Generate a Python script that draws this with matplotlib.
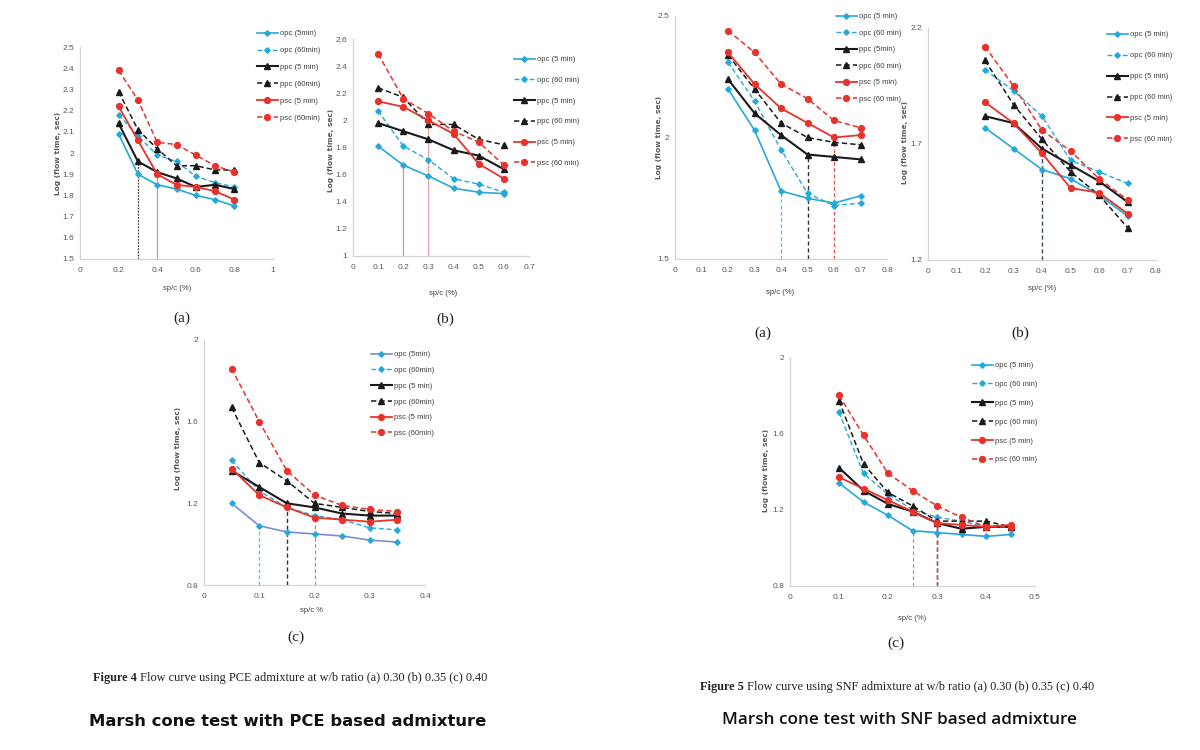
import matplotlib
matplotlib.use("Agg")
import matplotlib.pyplot as plt
from matplotlib.ticker import FixedLocator, FuncFormatter

W, H = 1200, 750

# ---------------- data ----------------
# Figure 4 (a): PCE, w/b 0.30
pce_a_x = [0.2, 0.3, 0.4, 0.5, 0.6, 0.7, 0.8]
pce_a_opc5 = [2.09, 1.90, 1.85, 1.83, 1.80, 1.78, 1.75]
pce_a_opc60 = [2.18, 2.08, 1.99, 1.96, 1.89, 1.86, 1.84]
pce_a_ppc5 = [2.14, 1.96, 1.91, 1.88, 1.84, 1.85, 1.83]
pce_a_ppc60 = [2.29, 2.11, 2.02, 1.94, 1.94, 1.92, 1.92]
pce_a_psc5 = [2.22, 2.06, 1.90, 1.85, 1.84, 1.82, 1.78]
pce_a_psc60 = [2.39, 2.25, 2.05, 2.04, 1.99, 1.94, 1.91]
pce_a_labels = ["opc (5min)", "opc (60min)", "ppc (5 min)", "ppc (60min)", "psc (5 min)", "psc (60min)"]
pce_a_xticks = [0, 0.2, 0.4, 0.6, 0.8, 1]
pce_a_yticks = [1.5, 1.6, 1.7, 1.8, 1.9, 2.0, 2.1, 2.2, 2.3, 2.4, 2.5]
pce_a_drop_x = [0.3, 0.4]
pce_a_drop_y = [1.96, 1.91]

# Figure 4 (b): PCE, w/b 0.35
pce_b_x = [0.1, 0.2, 0.3, 0.4, 0.5, 0.6]
pce_b_opc5 = [1.81, 1.67, 1.59, 1.50, 1.47, 1.46]
pce_b_opc60 = [2.07, 1.81, 1.71, 1.57, 1.53, 1.47]
pce_b_ppc5 = [1.98, 1.92, 1.86, 1.78, 1.74, 1.64]
pce_b_ppc60 = [2.24, 2.17, 1.97, 1.97, 1.86, 1.82]
pce_b_psc5 = [2.14, 2.10, 2.00, 1.90, 1.68, 1.57]
pce_b_psc60 = [2.49, 2.16, 2.05, 1.92, 1.84, 1.67]
pce_b_labels = ["opc (5 min)", "opc (60 min)", "ppc (5 min)", "ppc (60 min)", "psc (5 min)", "psc (60 min)"]
pce_b_xticks = [0, 0.1, 0.2, 0.3, 0.4, 0.5, 0.6, 0.7]
pce_b_yticks = [1.0, 1.2, 1.4, 1.6, 1.8, 2.0, 2.2, 2.4, 2.6]
pce_b_drop_x = [0.2, 0.3]
pce_b_drop_y = [1.67, 2.00]

# Figure 4 (c): PCE, w/b 0.40
pce_c_x = [0.05, 0.1, 0.15, 0.2, 0.25, 0.3, 0.35]
pce_c_opc5 = [1.20, 1.09, 1.06, 1.05, 1.04, 1.02, 1.01]
pce_c_opc60 = [1.41, 1.26, 1.18, 1.14, 1.12, 1.08, 1.07]
pce_c_ppc5 = [1.36, 1.28, 1.20, 1.18, 1.15, 1.14, 1.14]
pce_c_ppc60 = [1.67, 1.40, 1.31, 1.20, 1.18, 1.16, 1.15]
pce_c_psc5 = [1.37, 1.24, 1.18, 1.13, 1.12, 1.11, 1.12]
pce_c_psc60 = [1.86, 1.60, 1.36, 1.24, 1.19, 1.17, 1.16]
pce_c_labels = ["opc (5min)", "opc (60min)", "ppc (5 min)", "ppc (60min)", "psc (5 min)", "psc (60min)"]
pce_c_xticks = [0, 0.1, 0.2, 0.3, 0.4]
pce_c_yticks = [0.8, 1.2, 1.6, 2.0]
pce_c_drop_x = [0.1, 0.15, 0.2]
pce_c_drop_y = [1.09, 1.19, 1.13]

# Figure 5 (a): SNF, w/b 0.30
snf_a_x = [0.2, 0.3, 0.4, 0.5, 0.6, 0.7]
snf_a_opc5 = [2.20, 2.03, 1.78, 1.75, 1.73, 1.76]
snf_a_opc60 = [2.31, 2.15, 1.95, 1.77, 1.72, 1.73]
snf_a_ppc5 = [2.24, 2.10, 2.01, 1.93, 1.92, 1.91]
snf_a_ppc60 = [2.34, 2.20, 2.06, 2.00, 1.98, 1.97]
snf_a_psc5 = [2.35, 2.22, 2.12, 2.06, 2.00, 2.01]
snf_a_psc60 = [2.44, 2.35, 2.22, 2.16, 2.07, 2.04]
snf_a_labels = ["opc (5 min)", "opc (60 min)", "ppc (5min)", "ppc (60 min)", "psc (5 min)", "psc (60 min)"]
snf_a_xticks = [0, 0.1, 0.2, 0.3, 0.4, 0.5, 0.6, 0.7, 0.8]
snf_a_yticks = [1.5, 2.0, 2.5]
snf_a_drop_x = [0.4, 0.5, 0.6]
snf_a_drop_y = [1.78, 1.93, 2.00]

# Figure 5 (b): SNF, w/b 0.35
snf_b_x = [0.2, 0.3, 0.4, 0.5, 0.6, 0.7]
snf_b_opc5 = [1.77, 1.68, 1.59, 1.55, 1.48, 1.39]
snf_b_opc60 = [2.02, 1.93, 1.82, 1.63, 1.58, 1.53]
snf_b_ppc5 = [1.82, 1.79, 1.68, 1.61, 1.54, 1.45]
snf_b_ppc60 = [2.06, 1.87, 1.72, 1.58, 1.48, 1.34]
snf_b_psc5 = [1.88, 1.79, 1.66, 1.51, 1.49, 1.40]
snf_b_psc60 = [2.12, 1.95, 1.76, 1.67, 1.55, 1.46]
snf_b_labels = ["opc (5 min)", "opc (60 min)", "ppc (5 min)", "ppc (60 min)", "psc (5 min)", "psc (60 min)"]
snf_b_xticks = [0, 0.1, 0.2, 0.3, 0.4, 0.5, 0.6, 0.7, 0.8]
snf_b_yticks = [1.2, 1.7, 2.2]
snf_b_drop_x = [0.4]
snf_b_drop_y = [1.68]

# Figure 5 (c): SNF, w/b 0.40
snf_c_x = [0.1, 0.15, 0.2, 0.25, 0.3, 0.35, 0.4, 0.45]
snf_c_opc5 = [1.34, 1.24, 1.17, 1.09, 1.08, 1.07, 1.06, 1.07]
snf_c_opc60 = [1.71, 1.39, 1.28, 1.20, 1.16, 1.14, 1.11, 1.11]
snf_c_ppc5 = [1.42, 1.30, 1.23, 1.19, 1.13, 1.10, 1.11, 1.11]
snf_c_ppc60 = [1.77, 1.44, 1.29, 1.22, 1.14, 1.14, 1.14, 1.11]
snf_c_psc5 = [1.37, 1.31, 1.25, 1.19, 1.13, 1.12, 1.11, 1.12]
snf_c_psc60 = [1.80, 1.59, 1.39, 1.30, 1.22, 1.16, 1.11, 1.11]
snf_c_labels = ["opc (5 min)", "opc (60 min)", "ppc (5 min)", "ppc (60 min)", "psc (5 min)", "psc (60 min)"]
snf_c_xticks = [0, 0.1, 0.2, 0.3, 0.4, 0.5]
snf_c_yticks = [0.8, 1.2, 1.6, 2.0]
snf_c_drop_x = [0.25, 0.3, 0.3]
snf_c_drop_y = [1.09, 1.13, 1.13]

# ---------------- styling ----------------
CYAN = "#25a9d9"
BLACK = "#1a1a1a"
RED = "#e8322b"
NARROW = ["Liberation Sans Narrow", "Liberation Sans", "DejaVu Sans"]
SERIF = ["Liberation Serif", "DejaVu Serif"]

STYLES = [
    dict(color=CYAN, ls="-", marker="D", ms=2.8, lw=1.2),
    dict(color=CYAN, ls=(0, (3.5, 2)), marker="D", ms=2.8, lw=1.0),
    dict(color=BLACK, ls="-", marker="^", ms=4, lw=1.5),
    dict(color=BLACK, ls=(0, (3.5, 2)), marker="^", ms=4, lw=1.1),
    dict(color=RED, ls="-", marker="o", ms=4.2, lw=1.3),
    dict(color=RED, ls=(0, (3.5, 2)), marker="o", ms=4.2, lw=1.1),
]

fig = plt.figure(figsize=(W / 100, H / 100), dpi=100)
fig.patch.set_facecolor("white")


def fx(px):
    return px / W


def fy(py):
    return 1 - py / H


def fmt(v, _pos=None):
    return "%g" % round(v, 3)


def panel(box, xs, series, labels, xticks, yticks, drop_x, drop_y, drop_styles,
          leg, xlabel, xlabel_pos, sub, sub_pos, ylabel_pos, opc5_line=None):
    left, top, right, bottom = box
    ax = fig.add_axes([fx(left), fy(bottom), (right - left) / W, (bottom - top) / H])
    ax.set_xlim(xticks[0], xticks[-1])
    ax.set_ylim(yticks[0], yticks[-1])
    for s in ("top", "right"):
        ax.spines[s].set_visible(False)
    for s in ("left", "bottom"):
        ax.spines[s].set_color("#d4d4d4")
        ax.spines[s].set_linewidth(0.9)
    ax.xaxis.set_major_locator(FixedLocator(xticks))
    ax.yaxis.set_major_locator(FixedLocator(yticks))
    ax.xaxis.set_major_formatter(FuncFormatter(fmt))
    ax.yaxis.set_major_formatter(FuncFormatter(fmt))
    ax.tick_params(axis="x", length=0, labelsize=6, labelcolor="#595959", pad=6)
    ax.tick_params(axis="y", length=0, labelsize=6, labelcolor="#595959", pad=4)
    for t in ax.get_xticklabels() + ax.get_yticklabels():
        t.set_family(NARROW)
    # drop lines
    for dx, dy, st in zip(drop_x, drop_y, drop_styles):
        ax.vlines(dx, yticks[0], dy, zorder=1, **st)
    handles = []
    for i, (ys, st) in enumerate(zip(series, STYLES)):
        st = dict(st)
        mcol = st["color"]
        if i == 0 and opc5_line is not None:
            st["color"] = opc5_line
        h, = ax.plot(xs, ys, color=st["color"], ls=st["ls"], lw=st["lw"],
                     marker=st["marker"], ms=st["ms"], mfc=mcol, mec=mcol,
                     zorder=3, clip_on=False)
        handles.append(h)
    lx, ly, ls = leg
    ax.legend(handles, labels, loc="upper left",
              bbox_to_anchor=(fx(lx), fy(ly)), bbox_transform=fig.transFigure,
              frameon=False, prop=dict(family=NARROW, size=5.5),
              handlelength=2.7, handletextpad=0.3, labelspacing=ls,
              borderpad=0, borderaxespad=0, labelcolor="#404040")
    fig.text(fx(xlabel_pos[0]), fy(xlabel_pos[1]), xlabel, ha="center", va="center",
             fontsize=5.5, family=NARROW, color="#404040")
    fig.text(fx(ylabel_pos[0]), fy(ylabel_pos[1]), "Log (flow time, sec)", rotation=90,
             ha="center", va="center", fontsize=5.3, fontweight="bold",
             family="DejaVu Sans", color="#595959")
    fig.text(fx(sub_pos[0]), fy(sub_pos[1]), sub, ha="center", va="center",
             fontsize=11, family=SERIF, color="#222222")
    return ax


dash = (0, (3, 2))
panel((80, 47, 273, 259), pce_a_x,
      [pce_a_opc5, pce_a_opc60, pce_a_ppc5, pce_a_ppc60, pce_a_psc5, pce_a_psc60],
      pce_a_labels, pce_a_xticks, pce_a_yticks, pce_a_drop_x, pce_a_drop_y,
      [dict(color="#444444", ls=(0, (1.5, 1)), lw=0.9), dict(color="#aaaaaa", ls="-", lw=0.9)],
      (257, 30, 1.25), "sp/c (%)", (177, 288), "(a)", (182, 318), (58, 153))

panel((353, 39, 529, 256), pce_b_x,
      [pce_b_opc5, pce_b_opc60, pce_b_ppc5, pce_b_ppc60, pce_b_psc5, pce_b_psc60],
      pce_b_labels, pce_b_xticks, pce_b_yticks, pce_b_drop_x, pce_b_drop_y,
      [dict(color="#9aa8b8", ls="-", lw=0.9), dict(color="#f0a0a0", ls="-", lw=0.9)],
      (514, 56, 1.75), "sp/c (%)", (443, 293), "(b)", (445, 319), (331, 150))

panel((675, 16, 887, 259), snf_a_x,
      [snf_a_opc5, snf_a_opc60, snf_a_ppc5, snf_a_ppc60, snf_a_psc5, snf_a_psc60],
      snf_a_labels, snf_a_xticks, snf_a_yticks, snf_a_drop_x, snf_a_drop_y,
      [dict(color="#5cc0e0", ls=dash, lw=0.9), dict(color="#333333", ls=dash, lw=1.0),
       dict(color="#e85050", ls=dash, lw=0.9)],
      (836, 13, 1.2), "sp/c (%)", (780, 292), "(a)", (763, 333), (659, 137))

panel((928, 28, 1156, 260), snf_b_x,
      [snf_b_opc5, snf_b_opc60, snf_b_ppc5, snf_b_ppc60, snf_b_psc5, snf_b_psc60],
      snf_b_labels, snf_b_xticks, snf_b_yticks, snf_b_drop_x, snf_b_drop_y,
      [dict(color="#3a4a5a", ls=dash, lw=1.0)],
      (1107, 31, 1.78), "sp/c (%)", (1042, 288), "(b)", (1020, 333), (905, 142))

panel((204, 340, 425, 585), pce_c_x,
      [pce_c_opc5, pce_c_opc60, pce_c_ppc5, pce_c_ppc60, pce_c_psc5, pce_c_psc60],
      pce_c_labels, pce_c_xticks, pce_c_yticks, pce_c_drop_x, pce_c_drop_y,
      [dict(color="#5cc0e0", ls=dash, lw=0.9), dict(color="#333333", ls=dash, lw=1.0),
       dict(color="#f07060", ls=dash, lw=0.9)],
      (371, 351, 1.1), "sp/c %", (312, 611), "(c)", (296, 637), (178, 448),
      opc5_line="#7a8ed6")

panel((790, 357, 1035, 586), snf_c_x,
      [snf_c_opc5, snf_c_opc60, snf_c_ppc5, snf_c_ppc60, snf_c_psc5, snf_c_psc60],
      snf_c_labels, snf_c_xticks, snf_c_yticks, snf_c_drop_x, snf_c_drop_y,
      [dict(color="#8aa0b0", ls=dash, lw=0.9), dict(color="#333333", ls=dash, lw=1.0),
       dict(color="#e84040", ls=dash, lw=1.0)],
      (972, 362, 1.5), "sp/c (%)", (912, 618), "(c)", (896, 643), (766, 470))

# ---------------- captions ----------------
renderer = fig.canvas.get_renderer()


def caption(cx, cy, bold, rest, size):
    t1 = fig.text(0, fy(cy), bold, fontsize=size, family=SERIF, fontweight="bold",
                  va="center", ha="left", color="#222222")
    t2 = fig.text(0, fy(cy), rest, fontsize=size, family=SERIF,
                  va="center", ha="left", color="#222222")
    w1 = t1.get_window_extent(renderer).width
    w2 = t2.get_window_extent(renderer).width
    x0 = cx - (w1 + w2) / 2
    t1.set_x(fx(x0))
    t2.set_x(fx(x0 + w1))


caption(290, 678, "Figure 4", " Flow curve using PCE admixture at w/b ratio (a) 0.30 (b) 0.35 (c) 0.40", 8.8)
caption(897, 687, "Figure 5", " Flow curve using SNF admixture at w/b ratio (a) 0.30 (b) 0.35 (c) 0.40", 8.8)

fig.text(fx(288), fy(722), "Marsh cone test with PCE based admixture", ha="center", va="center",
         fontsize=11.8, fontweight="bold", family="DejaVu Sans", color="#111111")
fig.text(fx(900), fy(720), "Marsh cone test with SNF based admixture", ha="center", va="center",
         fontsize=12.3, fontweight="semibold", family=["Open Sans", "DejaVu Sans"], color="#111111")

fig.savefig("out.png", dpi=100, facecolor="white")
